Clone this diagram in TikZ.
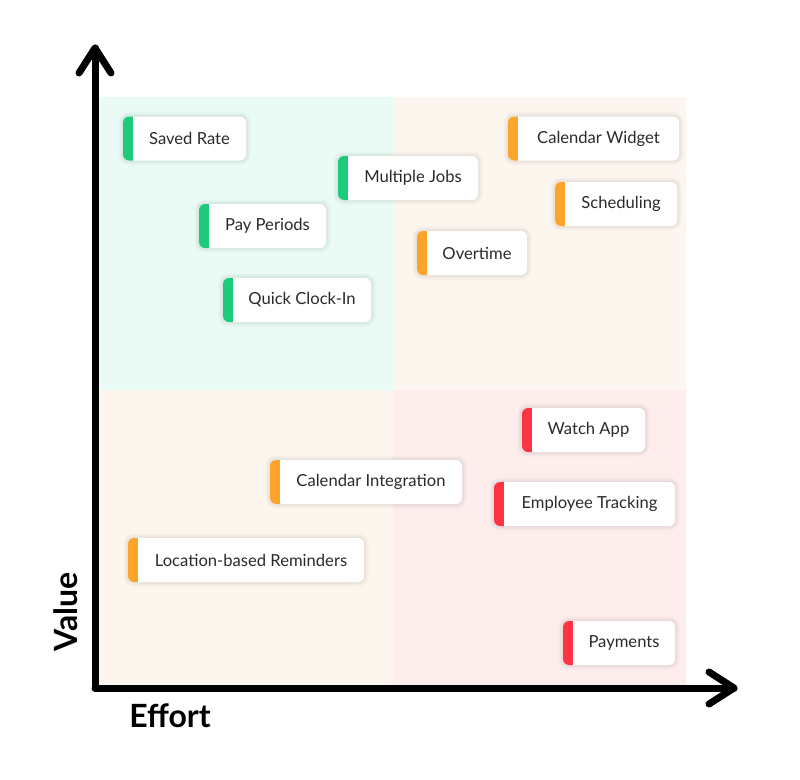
\documentclass[tikz,border=0pt]{standalone}
\usepackage{fontspec}
\setmainfont{Lato}
\definecolor{qmint}{HTML}{E9FBF4}
\definecolor{qpeach}{HTML}{FDF6EE}
\definecolor{qpink}{HTML}{FDEDED}
\definecolor{cgreen}{HTML}{1DCB7A}
\definecolor{corange}{HTML}{FFA42B}
\definecolor{cred}{HTML}{FF3344}
\definecolor{ctext}{HTML}{2A2A2A}
\tikzset{
  card/.style={draw=none, fill=white, rounded corners=6pt, minimum height=44pt,
    inner sep=0pt, font=\fontsize{16.6}{19}\selectfont, text=ctext,
    preaction={draw=black, draw opacity=0.025, line width=9pt},
    preaction={draw=black, draw opacity=0.025, line width=6pt},
    preaction={draw=black, draw opacity=0.03, line width=3pt},
    path picture={\fill[#1, sharp corners] ([xshift=-2pt,yshift=-2pt]path picture bounding box.south west) rectangle ([xshift=10pt,yshift=2pt]path picture bounding box.north west);}},
  axis/.style={line width=7pt, line cap=round, line join=round, black},
  axlabel/.style={font=\fontsize{32}{36}\selectfont\bfseries, text=black}
}
\newcommand{\mkcard}[6]{%
  \node[card=#5, minimum width=#3-#2] (#1) at ({(#2+#3)/2},#4) {\hspace*{10pt}#6};}
\begin{document}
\begin{tikzpicture}[x=1pt,y=-1pt]
\useasboundingbox (0,0) rectangle (800,779);
% quadrants
\fill[qmint] (95,97) rectangle (393,390);
\fill[qpeach] (393,97) rectangle (686,390);
\fill[qpeach] (95,390) rectangle (393,688);
\fill[qpink] (393,390) rectangle (686,688);
% axes
\coordinate (o) at (95,688);
\coordinate (ytip) at (95,48);
\coordinate (xtip) at (734,688);
\draw[axis] (o) -- (ytip);
\draw[axis] (o) -- (xtip);
\draw[axis] ([xshift=-16pt,yshift=-25pt]ytip) -- (ytip) -- ([xshift=16pt,yshift=-25pt]ytip);
\draw[axis] ([xshift=-25pt,yshift=-16pt]xtip) -- (xtip) -- ([xshift=-25pt,yshift=16pt]xtip);
\node[axlabel, rotate=90] (vlab) at (66,612) {Value};
\node[axlabel] (elab) at (170,716) {Effort};
% cards
\mkcard{saved}{123}{246}{138.5}{cgreen}{Saved Rate}
\mkcard{multi}{338}{478}{178}{cgreen}{Multiple Jobs}
\mkcard{calw}{508}{679}{138.5}{corange}{Calendar Widget}
\mkcard{sched}{555}{677}{204}{corange}{Scheduling}
\mkcard{payp}{199}{326}{226}{cgreen}{Pay Periods}
\mkcard{over}{417}{527}{253}{corange}{Overtime}
\mkcard{quick}{223}{371}{300}{cgreen}{Quick Clock-In}
\mkcard{watch}{522}{645}{430}{cred}{Watch App}
\mkcard{cali}{270}{462}{482}{corange}{Calendar Integration}
\mkcard{emp}{494}{675}{504}{cred}{Employee Tracking}
\mkcard{loc}{128}{364}{560}{corange}{Location-based Reminders}
\mkcard{pay}{563}{675}{643}{cred}{Payments}
\end{tikzpicture}
\end{document}
